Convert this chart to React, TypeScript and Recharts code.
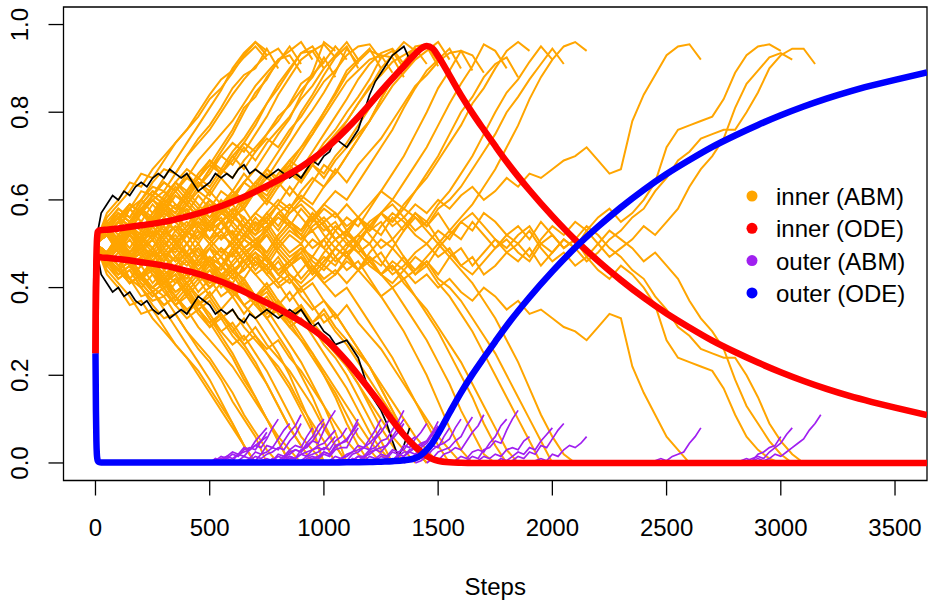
import React from "react";
import { LineChart, Line, XAxis, YAxis, ReferenceArea } from "recharts";

const WIDTH = 935;
const HEIGHT = 607;
const FONT = '"Liberation Sans", Arial, Helvetica, sans-serif';

const PLOT_LEFT = 63.5;
const PLOT_RIGHT = 927;
const PLOT_TOP = 7;
const PLOT_BOTTOM = 480.5;

const INNER_ABM = "#FFA500";
const INNER_ODE = "#FF0000";
const OUTER_ABM = "#A020F0";
const OUTER_ODE = "#0000FF";

const xTicks = [0, 500, 1000, 1500, 2000, 2500, 3000, 3500];
const yTicks = [0, 0.2, 0.4, 0.6, 0.8, 1.0];

const legendLabels = ["inner (ABM)", "inner (ODE)", "outer (ABM)", "outer (ODE)"];
const legendColors = [INNER_ABM, INNER_ODE, OUTER_ABM, OUTER_ODE];

// mean-field solution
const odeSteps = [0, 2, 4, 6, 8, 10, 15, 25, 50, 100, 200, 300, 400, 500, 600, 700, 800, 900, 1000, 1100, 1200, 1250, 1300, 1350, 1400, 1425, 1450, 1475, 1500, 1550, 1600, 1650, 1700, 1750, 1800, 1900, 2000, 2100, 2200, 2300, 2400, 2500, 2600, 2700, 2800, 2900, 3000, 3100, 3200, 3300, 3400, 3500, 3640];
const innerHiOde = [0.25, 0.4, 0.47, 0.505, 0.52, 0.527, 0.53, 0.531, 0.532, 0.535, 0.542, 0.55, 0.562, 0.577, 0.596, 0.619, 0.645, 0.675, 0.713, 0.762, 0.818, 0.848, 0.877, 0.905, 0.933, 0.945, 0.951, 0.946, 0.928, 0.884, 0.839, 0.798, 0.76, 0.723, 0.687, 0.622, 0.563, 0.509, 0.461, 0.417, 0.377, 0.341, 0.309, 0.279, 0.253, 0.229, 0.207, 0.187, 0.169, 0.153, 0.139, 0.126, 0.109];
const innerLoOde = [0.25, 0.38, 0.44, 0.46, 0.467, 0.47, 0.47, 0.469, 0.468, 0.465, 0.458, 0.45, 0.438, 0.423, 0.403, 0.378, 0.352, 0.322, 0.285, 0.232, 0.167, 0.133, 0.097, 0.064, 0.037, 0.026, 0.016, 0.009, 0.005, 0.0015, 0.0005, 0, 0, 0, 0, 0, 0, 0, 0, 0, 0, 0, 0, 0, 0, 0, 0, 0, 0, 0, 0, 0, 0];
const outerOde = [0.25, 0.12, 0.05, 0.02, 0.01, 0.005, 0.002, 0.001, 0.001, 0.001, 0.001, 0.001, 0.001, 0.001, 0.001, 0.001, 0.001, 0.001, 0.001, 0.0015, 0.002, 0.003, 0.004, 0.006, 0.011, 0.018, 0.03, 0.046, 0.067, 0.1145, 0.1605, 0.202, 0.24, 0.277, 0.313, 0.378, 0.437, 0.491, 0.539, 0.583, 0.623, 0.659, 0.691, 0.721, 0.747, 0.771, 0.793, 0.813, 0.831, 0.847, 0.861, 0.874, 0.891];

// ABM runs, values in hundredths. Inner series: one value every 50 steps from step 0.
const RUN_EVERY = 50;
// Outer series: one value every 25 steps, starting at outerFrom[i].
const OUTER_EVERY = 25;
// Highlighted run: one value every 25 steps.
const HIGHLIGHT_EVERY = 25;

const run01Lo = [50, 43, 40, 36, 37, 33, 30, 27, 24, 21, 17, 13, 9, 4, 0];
const run01Hi = [50, 57, 60, 64, 63, 67, 70, 73, 76, 79, 83, 85.5, 89, 93, 96, 94];
const run01Out = [0, 0.5, 1.5, 1, 2, 1.5, 3, 3.5, 3, 5, 6];

const run02Lo = [50, 44, 41, 38, 34, 35, 31, 27, 24, 20, 16, 12, 8, 4, 0];
const run02Hi = [50, 56, 59, 62, 66, 65, 69, 73, 76, 80, 84, 87.5, 89.5, 92.5, 95, 92];
const run02Out = [0, 1, 0.5, 1.5, 2.5, 2, 3.5, 3, 5, 6.5, 8];

const run03Lo = [50, 46, 47, 42, 40, 37, 38, 34, 30, 27, 24, 20, 16, 11, 7, 3, 0];
const run03Hi = [50, 54, 53, 58, 60, 63, 62, 66, 70, 73, 76, 80, 84, 87.5, 90.5, 93, 94.5, 91];
const run03Out = [0, 0.5, 1.5, 1, 2.5, 2, 4, 3.5, 5.5, 7.5, 9];

const run04Lo = [50, 45, 42, 44, 40, 36, 33, 34, 30, 26, 23, 19, 14, 10, 6, 0];
const run04Hi = [50, 55, 58, 56, 60, 64, 67, 66, 70, 74, 77, 81, 85.5, 88.5, 90, 94.5, 90];
const run04Out = [0, 1, 0.5, 2, 1.5, 3, 4, 3.5, 5.5, 8, 10];

const run05Lo = [50, 47, 44, 41, 43, 39, 36, 38, 35, 31, 28, 25, 22, 18, 14, 10, 6, 3, 0];
const run05Hi = [50, 53, 56, 59, 57, 61, 64, 62, 65, 69, 72, 75, 78, 82, 86, 89, 92, 94, 96, 92];
const run05Out = [0, 0.5, 1, 0.5, 2, 1.5, 3, 4, 3.5, 6, 8];

const run06Lo = [50, 48, 51, 47, 43, 45, 41, 38, 35, 37, 33, 29, 25, 20, 15, 10, 5, 0];
const run06Hi = [50, 52, 49, 53, 57, 55, 59, 62, 65, 63, 67, 71, 75, 80, 84.5, 87.5, 92, 93, 89];
const run06Out = [0, 1, 0.5, 2, 2.5, 3.5, 3, 5, 7, 8.5, 11];

const run07Lo = [50, 53, 50, 46, 48, 44, 41, 43, 39, 36, 38, 34, 31, 27, 23, 18, 13, 8, 4, 0];
const run07Hi = [50, 47, 50, 54, 52, 56, 59, 57, 61, 64, 62, 66, 69, 73, 77, 82, 85.5, 89.5, 93.5, 94, 90];
const run07Out = [0, 0.5, 1.5, 1, 2.5, 3, 2.5, 4.5, 6, 8.5, 10];

const run08Lo = [50, 47, 49, 45, 42, 44, 40, 42, 38, 35, 37, 33, 35, 31, 28, 25, 21, 17, 12, 7, 0];
const run08Hi = [50, 53, 51, 55, 58, 56, 60, 58, 62, 65, 63, 67, 65, 69, 72, 75, 79, 81.5, 85, 88, 92.5, 88];
const run08Out = [0, 0.5, 1.5, 1, 3, 3.5, 5, 4.5, 7.5, 10, 12];

const run09Lo = [50, 54, 57, 55, 58, 54, 50, 52, 48, 45, 47, 43, 40, 36, 33, 29, 25, 20, 14, 8, 0];
const run09Hi = [50, 46, 43, 45, 42, 46, 50, 48, 52, 55, 53, 57, 60, 64, 67, 71, 75, 78.5, 84, 89, 96, 94];
const run09Out = [0, 1, 1.5, 1, 2, 2.5, 3, 3.5, 3, 4.5, 6];

const run10Lo = [50, 46, 43, 45, 41, 38, 40, 36, 39, 35, 32, 34, 30, 27, 29, 25, 22, 18, 13, 9, 5, 0];
const run10Hi = [50, 54, 57, 55, 59, 62, 60, 64, 61, 65, 68, 66, 70, 73, 71, 75, 78, 82, 86.5, 88.5, 91.5, 95, 92];
const run10Out = [0, 0.5, 0.5, 1.5, 2, 2.5, 3.5, 3, 5, 6, 8];

const run11Lo = [50, 52, 48, 51, 47, 49, 45, 47, 43, 46, 42, 38, 40, 36, 33, 35, 31, 27, 23, 18, 13, 7, 0];
const run11Hi = [50, 48, 52, 49, 53, 51, 55, 53, 57, 54, 58, 62, 60, 64, 67, 65, 69, 73, 77, 80.5, 84.5, 89, 94.5, 91];
const run11Out = [0, 1, 1.5, 1, 2.5, 2, 4, 4.5, 5.5, 7, 9];

const run12Lo = [50, 47, 51, 54, 50, 53, 49, 46, 48, 44, 41, 43, 39, 42, 38, 35, 37, 33, 29, 25, 20, 15, 9, 4, 0];
const run12Hi = [50, 53, 49, 46, 50, 47, 51, 54, 52, 56, 59, 57, 61, 58, 62, 65, 63, 67, 71, 75, 80, 84.5, 89.5, 92, 94.5, 90];
const run12Out = [0, 0.5, 0.5, 1, 1.5, 2.5, 4, 3.5, 5.5, 7.5, 10];

const run13Lo = [50, 48, 45, 41, 43, 39, 36, 38, 34, 37, 33, 30, 32, 28, 31, 27, 24, 21, 17, 13, 8, 4, 0];
const run13Hi = [50, 52, 55, 59, 57, 61, 64, 62, 66, 63, 67, 70, 68, 72, 69, 73, 76, 79, 83, 86, 90, 93, 96, 92];
const run13Out = [0, 0.5, 1, 1, 2, 1.5, 3, 3.5, 3.5, 6, 8];

const run14Lo = [50, 53, 49, 52, 48, 51, 47, 44, 46, 42, 45, 41, 38, 40, 36, 33, 35, 31, 28, 24, 20, 16, 11, 6, 3, 0];
const run14Hi = [50, 47, 51, 48, 52, 49, 53, 56, 54, 58, 55, 59, 62, 60, 64, 67, 65, 69, 72, 76, 80, 84, 88.5, 91.5, 94, 93, 89];
const run14Out = [0, 1, 0.5, 2, 2.5, 3.5, 3, 5.5, 7, 9, 11];

const run15Lo = [50, 47, 50, 46, 49, 45, 48, 44, 47, 43, 40, 42, 38, 41, 37, 40, 36, 33, 35, 31, 27, 24, 20, 15, 10, 5, 0];
const run15Hi = [50, 53, 50, 54, 51, 55, 52, 56, 53, 57, 60, 58, 62, 59, 63, 60, 64, 67, 65, 69, 73, 76, 80, 83.5, 87.5, 92.5, 94, 90];
const run15Out = [0, 0.5, 1.5, 1, 2.5, 3, 2.5, 4, 6, 8, 10];

const run16Lo = [50, 53, 56, 52, 55, 51, 54, 50, 47, 49, 45, 42, 44, 40, 37, 39, 35, 32, 28, 25, 21, 17, 13, 9, 5, 2, 0];
const run16Hi = [50, 47, 44, 48, 45, 49, 46, 50, 53, 51, 55, 58, 56, 60, 63, 61, 65, 68, 72, 75, 79, 83, 87, 89.5, 92, 93, 92.5, 88];
const run16Out = [0, 0.5, 1.5, 1.5, 3, 3.5, 5, 5.5, 7.5, 9.5, 12];

const run17Lo = [50, 48, 51, 47, 50, 46, 43, 45, 41, 44, 40, 43, 39, 42, 38, 41, 37, 34, 36, 32, 29, 26, 22, 18, 13, 8, 4, 0];
const run17Hi = [50, 52, 49, 53, 50, 54, 57, 55, 59, 56, 60, 57, 61, 58, 62, 59, 63, 66, 64, 68, 71, 74, 78, 82, 85.5, 90, 93, 96, 94];
const run17Out = [0, 0.5, 1.5, 1, 2, 1.5, 3, 2.5, 3, 5, 6];

const run18Lo = [50, 52, 49, 53, 50, 54, 51, 47, 50, 46, 49, 45, 48, 44, 47, 43, 46, 42, 39, 41, 37, 34, 30, 26, 22, 17, 12, 7, 3, 0];
const run18Hi = [50, 48, 51, 47, 50, 46, 49, 53, 50, 54, 51, 55, 52, 56, 53, 57, 54, 58, 61, 59, 63, 66, 70, 74, 78, 83, 87.5, 90.5, 93.5, 95, 92];
const run18Out = [0, 1, 0.5, 1.5, 2.5, 2.5, 3.5, 4, 5, 6.5, 8];

const run19Lo = [50, 47, 44, 46, 42, 39, 41, 37, 40, 36, 39, 35, 38, 34, 37, 33, 36, 32, 35, 31, 28, 25, 22, 18, 14, 10, 6, 3, 0];
const run19Hi = [50, 53, 56, 54, 58, 61, 59, 63, 60, 64, 61, 65, 62, 66, 63, 67, 64, 68, 65, 69, 72, 75, 78, 82, 86, 88.5, 91.5, 93, 94.5, 91];
const run19Out = [0, 0.5, 1.5, 1, 2.5, 2, 4, 3.5, 5.5, 7, 9];

const run20Lo = [50, 53, 50, 47, 49, 52, 48, 51, 47, 50, 46, 49, 45, 48, 44, 47, 43, 46, 42, 45, 41, 38, 40, 36, 32, 28, 24, 19, 14, 9, 4, 0];
const run20Hi = [50, 47, 50, 53, 51, 48, 52, 49, 53, 50, 54, 51, 55, 52, 56, 53, 57, 54, 58, 55, 59, 62, 60, 64, 68, 72, 76, 81, 85.5, 89.5, 92, 94.5, 90];
const run20Out = [0, 1, 0.5, 2, 1.5, 3, 4, 4.5, 5.5, 8, 10];

const run21Lo = [50, 48, 45, 47, 43, 46, 42, 45, 41, 44, 40, 43, 39, 36, 38, 34, 37, 33, 36, 32, 35, 31, 28, 25, 22, 18, 14, 10, 6, 3, 0];
const run21Hi = [50, 52, 55, 53, 57, 54, 58, 55, 59, 56, 60, 57, 61, 64, 62, 66, 63, 67, 64, 68, 65, 69, 72, 75, 78, 82, 86, 89, 92, 94, 96, 92];
const run21Out = [0, 0.5, 1, 0.5, 2, 1.5, 3, 4, 3.5, 6, 8];

const run22Lo = [50, 47, 44, 46, 42, 40, 43, 39, 41, 44, 47, 45, 49, 52, 50, 54, 57, 55, 52, 49, 51, 47, 44, 46, 42, 38, 34, 30, 25, 20, 14, 8, 3, 0];
const run22Hi = [50, 53, 56, 54, 58, 60, 57, 61, 59, 56, 53, 55, 51, 48, 50, 46, 43, 45, 48, 51, 49, 53, 56, 54, 58, 62, 66, 70, 75, 80, 85.5, 89.5, 94, 93, 89];
const run22Out = [0, 1, 0.5, 2, 2.5, 3.5, 3, 5, 7, 8.5, 11];

const run23Lo = [50, 53, 56, 54, 58, 61, 59, 56, 58, 54, 51, 53, 49, 46, 48, 44, 41, 43, 40, 42, 45, 43, 47, 44, 41, 38, 40, 36, 32, 28, 23, 18, 12, 7, 2, 0];
const run23Hi = [50, 47, 44, 46, 42, 39, 41, 44, 42, 46, 49, 47, 51, 54, 52, 56, 59, 57, 60, 58, 55, 57, 53, 56, 59, 62, 60, 64, 68, 72, 77, 82, 86.5, 90.5, 95.5, 94, 90];
const run23Out = [0, 0.5, 1.5, 1, 2.5, 3, 2.5, 4.5, 6, 8.5, 10];

const run24Lo = [50, 48, 52, 55, 53, 57, 60, 58, 62, 59, 56, 58, 54, 51, 49, 52, 48, 45, 47, 43, 46, 49, 47, 50, 46, 43, 45, 41, 38, 34, 30, 25, 20, 15, 9, 4, 0];
const run24Hi = [50, 52, 48, 45, 47, 43, 40, 42, 38, 41, 44, 42, 46, 49, 51, 48, 52, 55, 53, 57, 54, 51, 53, 50, 54, 57, 55, 59, 62, 66, 70, 75, 80, 83.5, 88, 91, 92.5, 88];
const run24Out = [0, 0.5, 1.5, 1, 3, 3.5, 5, 4.5, 7.5, 10, 12];

const run25Lo = [50, 52, 48, 45, 47, 43, 41, 44, 40, 43, 46, 44, 48, 51, 49, 53, 56, 54, 51, 53, 49, 46, 48, 44, 47, 43, 40, 42, 38, 35, 31, 27, 23, 18, 13, 8, 3, 0];
const run25Hi = [50, 48, 52, 55, 53, 57, 59, 56, 60, 57, 54, 56, 52, 49, 51, 47, 44, 46, 49, 47, 51, 54, 52, 56, 53, 57, 60, 58, 62, 65, 69, 73, 77, 82, 85.5, 90, 94, 96, 94];
const run25Out = [0, 0.5, 1.5, 1, 2, 1.5, 3, 3.5, 3, 5, 6];

const run26Lo = [50, 47, 50, 53, 51, 55, 58, 56, 59, 62, 60, 57, 59, 55, 52, 54, 50, 47, 49, 45, 42, 44, 41, 44, 47, 45, 49, 46, 43, 45, 41, 38, 34, 30, 25, 20, 15, 10, 5, 0];
const run26Hi = [50, 53, 50, 47, 49, 45, 42, 44, 41, 38, 40, 43, 41, 45, 48, 46, 50, 53, 51, 55, 58, 56, 59, 56, 53, 55, 51, 54, 57, 55, 59, 62, 66, 70, 75, 80, 84.5, 87.5, 91.5, 95, 92];
const run26Out = [0, 1, 0.5, 1.5, 2.5, 2, 3.5, 3, 5, 6.5, 8];

const run27Lo = [50, 53, 50, 47, 45, 48, 44, 41, 43, 39, 42, 45, 43, 47, 50, 48, 52, 55, 53, 57, 54, 51, 53, 49, 46, 48, 44, 47, 43, 46, 42, 40, 37, 33, 29, 25, 20, 15, 10, 5, 0];
const run27Hi = [50, 47, 50, 53, 55, 52, 56, 59, 57, 61, 58, 55, 57, 53, 50, 52, 48, 45, 47, 43, 46, 49, 47, 51, 54, 52, 56, 53, 57, 54, 58, 60, 63, 67, 71, 75, 80, 83.5, 87.5, 91, 94.5, 91];
const run27Out = [0, 0.5, 1.5, 1, 2.5, 2, 4, 3.5, 5.5, 7.5, 9];

const run28Lo = [50, 48, 51, 54, 52, 56, 53, 50, 52, 48, 45, 47, 43, 46, 49, 47, 51, 54, 52, 56, 59, 57, 54, 56, 52, 49, 51, 47, 44, 46, 43, 47, 44, 41, 37, 33, 28, 23, 17, 11, 6, 2, 0];
const run28Hi = [50, 52, 49, 46, 48, 44, 47, 50, 48, 52, 55, 53, 57, 54, 51, 53, 49, 46, 48, 44, 41, 43, 46, 44, 48, 51, 49, 53, 56, 54, 57, 53, 56, 59, 63, 67, 72, 77, 83, 88, 92, 95, 96, 94];
const run28Out = [0, 0.5, 1, 0.5, 2, 1.5, 3, 4, 3.5, 4.5, 6];

const run29Lo = [50, 47, 44, 46, 42, 45, 48, 46, 50, 53, 51, 55, 58, 56, 53, 55, 51, 48, 50, 46, 44, 47, 50, 48, 45, 43, 46, 44, 41, 43, 40, 42, 39, 37, 40, 38, 35, 37, 34, 35, 33, 31, 30, 28, 31, 34, 33, 22, 16, 11, 6, 3, 0];
const run29Hi = [50, 53, 56, 54, 58, 55, 52, 54, 50, 47, 49, 45, 42, 44, 47, 45, 49, 52, 50, 54, 56, 53, 50, 52, 55, 57, 54, 56, 59, 57, 60, 58, 61, 63, 60, 62, 65, 63, 66, 65, 67, 69, 70, 72, 69, 66, 67, 78, 84, 88.5, 93, 95, 95.5, 92];
const run29Out = [0, 0, 0.5, 1, 0.5, 1.5, 2, 2.5, 4.5, 6, 8];

const run30Lo = [50, 47, 44, 41, 43, 40, 42, 45, 43, 47, 50, 53, 56, 54, 57, 60, 58, 55, 53, 56, 52, 49, 47, 44, 46, 43, 41, 44, 47, 45, 49, 52, 55, 53, 57, 55, 52, 50, 53, 49, 46, 48, 45, 47, 44, 42, 45, 43, 40, 36, 28, 24, 23, 22, 21, 17, 11, 6, 3, 1, 0];
const run30Hi = [50, 53, 56, 59, 57, 60, 58, 55, 57, 53, 50, 47, 44, 46, 43, 40, 42, 45, 47, 44, 48, 51, 53, 56, 54, 57, 59, 56, 53, 55, 51, 48, 45, 47, 43, 45, 48, 50, 47, 51, 54, 52, 55, 53, 56, 58, 55, 57, 60, 64, 72, 76, 77, 78, 79, 83, 89, 93, 95, 95.5, 94];
const run30Out = [0, 0.5, 1, 0.5, 2, 2.5, 3.5, 4, 6];

const run31Lo = [50, 53, 56, 59, 57, 60, 62, 59, 56, 58, 54, 51, 53, 49, 46, 44, 47, 43, 41, 44, 47, 45, 49, 52, 50, 54, 57, 55, 52, 50, 47, 49, 45, 43, 46, 49, 52, 54, 51, 55, 52, 49, 51, 47, 50, 53, 51, 49, 46, 48, 45, 42, 37, 33, 30, 26, 19, 13, 9, 5, 2, 0];
const run31Hi = [50, 47, 44, 41, 43, 40, 38, 41, 44, 42, 46, 49, 47, 51, 54, 56, 53, 57, 59, 56, 53, 55, 51, 48, 50, 46, 43, 45, 48, 50, 53, 51, 55, 57, 54, 51, 48, 46, 49, 45, 48, 51, 49, 53, 50, 47, 49, 51, 54, 52, 55, 58, 63, 67, 70, 74, 81, 86.5, 89.5, 92.5, 93.5, 92];
const run31Out = [0, 0.5, 0.5, 1, 1.5, 1, 2.5, 3.5, 4.5, 6.5, 8];

const run32Lo = [50, 48, 45, 47, 43, 40, 42, 38, 41, 44, 47, 45, 49, 52, 55, 53, 57, 59, 56, 53, 55, 51, 48, 50, 46, 43, 45, 42, 44, 47, 50, 53, 51, 55, 52, 49, 51, 48, 46, 50, 52, 49, 51, 54, 52, 49, 47, 44, 42, 38, 35, 31, 29, 26, 25, 24, 24, 20, 15, 9, 5, 2, 0];
const run32Hi = [50, 52, 55, 53, 57, 60, 58, 62, 59, 56, 53, 55, 51, 48, 45, 47, 43, 41, 44, 47, 45, 49, 52, 50, 54, 57, 55, 58, 56, 53, 50, 47, 49, 45, 48, 51, 49, 52, 54, 50, 48, 51, 49, 46, 48, 51, 53, 56, 58, 62, 65, 69, 71, 74, 75, 76, 76, 80, 84.5, 90, 93, 94.5, 94.5, 91];
const run32Out = [0, 0.5, 1, 0.5, 1, 2, 1.5, 2.5, 3.5, 4.5, 5.5, 7.5, 9, 11];

const run33Lo = [50, 45, 47, 42, 38, 39, 35, 31, 27, 23, 19, 14, 9, 4, 0];
const run33Hi = [50, 55, 53, 58, 62, 61, 65, 69, 73, 77, 81, 85, 90, 93.5, 96, 93];
const run33Out = [0, 0.5, 1, 1.5, 1, 2, 2.5, 3, 4, 5, 7];

const run34Lo = [50, 54, 51, 47, 49, 45, 41, 43, 39, 35, 32, 28, 24, 19, 15, 10, 5, 0];
const run34Hi = [50, 46, 49, 53, 51, 55, 59, 57, 61, 65, 68, 72, 76, 81, 83.5, 88, 91.5, 95, 91];
const run34Out = [0, 0.5, 1.5, 1, 2, 2.5, 3.5, 3, 5, 6.5, 9];

const run35Lo = [50, 46, 42, 44, 40, 43, 39, 36, 38, 34, 31, 33, 29, 26, 22, 18, 13, 8, 4, 0];
const run35Hi = [50, 54, 58, 56, 60, 57, 61, 64, 62, 66, 69, 67, 71, 74, 78, 82, 86.5, 90, 93.5, 95, 91];
const run35Out = [0, 1, 0.5, 1.5, 2, 3, 2.5, 4, 5, 7, 9];

const run36Lo = [50, 53, 56, 58, 55, 52, 54, 50, 47, 44, 46, 42, 39, 41, 37, 33, 29, 25, 20, 15, 9, 4, 0];
const run36Hi = [50, 47, 44, 42, 45, 48, 46, 50, 53, 56, 54, 58, 61, 59, 63, 67, 71, 75, 80, 84, 88.5, 92.5, 95, 90];
const run36Out = [0, 0.5, 1, 1.5, 2.5, 2, 3.5, 4.5, 5, 7.5, 10];

const run37Lo = [50, 47, 43, 45, 41, 38, 40, 36, 33, 35, 31, 34, 30, 33, 29, 26, 28, 24, 21, 17, 13, 9, 5, 2, 0];
const run37Hi = [50, 53, 57, 55, 59, 62, 60, 64, 67, 65, 69, 66, 70, 67, 71, 74, 72, 76, 79, 83, 87, 89.5, 93, 95, 95.5, 92];
const run37Out = [0, 0.5, 1.5, 1, 2, 2.5, 3, 3.5, 4.5, 6, 8];

const run38Lo = [50, 52, 55, 52, 49, 51, 47, 49, 46, 42, 44, 40, 43, 39, 36, 38, 34, 31, 33, 29, 25, 21, 17, 12, 7, 3, 0];
const run38Hi = [50, 48, 45, 48, 51, 49, 53, 51, 54, 58, 56, 60, 57, 61, 64, 62, 66, 69, 67, 71, 75, 79, 83, 87.5, 91, 93.5, 94.5, 91];
const run38Out = [0, 1, 0.5, 1.5, 2, 3, 3.5, 4, 5.5, 7, 9];

const run39Lo = [50, 48, 45, 42, 45, 41, 44, 47, 45, 49, 46, 43, 45, 41, 38, 40, 36, 39, 35, 32, 34, 30, 27, 23, 19, 15, 11, 7, 3, 0];
const run39Hi = [50, 52, 55, 58, 55, 59, 56, 53, 55, 51, 54, 57, 55, 59, 62, 60, 64, 61, 65, 68, 66, 70, 73, 77, 81, 85, 88, 91.5, 95, 95.5, 91.5];
const run39Out = [0, 0.5, 1, 0.5, 1.5, 2.5, 2, 3.5, 4.5, 6.5, 8.5];

const run40Lo = [50, 53, 50, 46, 48, 44, 41, 43, 39, 42, 38, 41, 44, 42, 46, 43, 40, 42, 38, 35, 37, 33, 36, 32, 29, 26, 22, 18, 14, 10, 6, 3, 0];
const run40Hi = [50, 47, 50, 54, 52, 56, 59, 57, 61, 58, 62, 59, 56, 58, 54, 57, 60, 58, 62, 65, 63, 67, 64, 68, 71, 74, 78, 82, 86, 88.5, 91.5, 93.5, 94, 89.5];
const run40Out = [0, 0.5, 1.5, 1, 2.5, 3, 3.5, 5, 6, 8.5, 10.5];

const run41Lo = [50, 55, 52, 48, 50, 46, 42, 39, 41, 37, 34, 30, 27, 29, 25, 21, 16, 11, 6, 3, 0];
const run41Hi = [50, 45, 48, 52, 50, 54, 58, 61, 59, 63, 66, 70, 73, 71, 75, 79, 84, 88, 92, 94, 95.5, 92.5];
const run41Out = [0, 0.5, 1, 1, 2, 1.5, 3, 4, 4.5, 6, 7.5];

const run42Lo = [50, 46, 49, 52, 50, 54, 57, 55, 52, 55, 51, 48, 50, 46, 43, 45, 41, 37, 40, 36, 32, 34, 30, 26, 22, 17, 12, 7, 3, 0];
const run42Hi = [50, 54, 51, 48, 50, 46, 43, 45, 48, 45, 49, 52, 50, 54, 57, 55, 59, 63, 60, 64, 68, 66, 70, 74, 78, 83, 87.5, 91.5, 93.5, 95, 90.5];
const run42Out = [0, 1, 0.5, 2, 1.5, 3, 3.5, 4.5, 5, 7, 9.5];

const outerFrom = [500, 500, 600, 550, 700, 650, 750, 800, 800, 850, 900, 1000, 900, 1050, 1100, 1100, 1150, 1250, 1200, 1350, 1300, 1450, 1550, 1600, 1650, 1750, 1800, 1900, 2400, 2800, 2800, 2850, 500, 650, 750, 900, 1000, 1100, 1250, 1400, 800, 1250];

// the run drawn in black
const highlightHi = [50, 57, 59, 61, 60, 62, 61, 63, 64, 63, 65, 66, 65, 67, 66, 65, 66, 64, 62, 63, 64, 66, 65, 66, 65, 67, 68, 66, 67, 66, 65, 66, 67, 66, 65, 66, 65, 67, 69, 68, 70, 71, 74, 73, 72, 74, 76, 80, 84, 87, 89, 91, 93, 94, 95, 92];
const highlightLo = [50, 43, 41, 39, 40, 38, 39, 37, 36, 37, 35, 34, 35, 33, 34, 35, 34, 36, 38, 37, 36, 34, 35, 34, 35, 33, 32, 34, 33, 34, 35, 34, 33, 34, 35, 34, 35, 33, 31, 32, 30, 29, 27, 27.5, 28, 26, 24, 20, 16, 14, 12, 9, 5, 1.5, 4, 8];

const runsHi = [run01Hi, run02Hi, run03Hi, run04Hi, run05Hi, run06Hi, run07Hi, run08Hi, run09Hi, run10Hi, run11Hi, run12Hi, run13Hi, run14Hi, run15Hi, run16Hi, run17Hi, run18Hi, run19Hi, run20Hi, run21Hi, run22Hi, run23Hi, run24Hi, run25Hi, run26Hi, run27Hi, run28Hi, run29Hi, run30Hi, run31Hi, run32Hi, run33Hi, run34Hi, run35Hi, run36Hi, run37Hi, run38Hi, run39Hi, run40Hi, run41Hi, run42Hi];
const runsLo = [run01Lo, run02Lo, run03Lo, run04Lo, run05Lo, run06Lo, run07Lo, run08Lo, run09Lo, run10Lo, run11Lo, run12Lo, run13Lo, run14Lo, run15Lo, run16Lo, run17Lo, run18Lo, run19Lo, run20Lo, run21Lo, run22Lo, run23Lo, run24Lo, run25Lo, run26Lo, run27Lo, run28Lo, run29Lo, run30Lo, run31Lo, run32Lo, run33Lo, run34Lo, run35Lo, run36Lo, run37Lo, run38Lo, run39Lo, run40Lo, run41Lo, run42Lo];
const runsOut = [run01Out, run02Out, run03Out, run04Out, run05Out, run06Out, run07Out, run08Out, run09Out, run10Out, run11Out, run12Out, run13Out, run14Out, run15Out, run16Out, run17Out, run18Out, run19Out, run20Out, run21Out, run22Out, run23Out, run24Out, run25Out, run26Out, run27Out, run28Out, run29Out, run30Out, run31Out, run32Out, run33Out, run34Out, run35Out, run36Out, run37Out, run38Out, run39Out, run40Out, run41Out, run42Out];

type Pt = { step: number; value: number };

function toSeries(vals: number[], from: number, every: number): Pt[] {
  return vals.map((v, i) => ({ step: from + i * every, value: v / 100 }));
}

const odeData = odeSteps.map((s, i) => ({
  step: s,
  hi: innerHiOde[i],
  lo: innerLoOde[i],
  out: outerOde[i],
}));

function XTick({ x, payload }: any) {
  return (
    <text x={x} y={536} textAnchor="middle" fontSize={24} fontFamily={FONT} fill="#000">
      {payload.value}
    </text>
  );
}

function YTick({ y, payload }: any) {
  return (
    <text
      x={28}
      y={y}
      transform={`rotate(-90 28 ${y})`}
      textAnchor="middle"
      fontSize={24}
      fontFamily={FONT}
      fill="#000"
    >
      {Number(payload.value).toFixed(1)}
    </text>
  );
}

function StepsTitle() {
  return (
    <text x={(PLOT_LEFT + PLOT_RIGHT) / 2} y={595} textAnchor="middle" fontSize={24} fontFamily={FONT} fill="#000">
      Steps
    </text>
  );
}

function LegendBox() {
  return (
    <svg
      width={WIDTH}
      height={HEIGHT}
      style={{ position: "absolute", left: 0, top: 0, pointerEvents: "none" }}
    >
      {legendLabels.map((label, i) => {
        const cy = 196 + i * 32.3;
        return (
          <g key={label}>
            <circle cx={752} cy={cy} r={5.5} fill={legendColors[i]} />
            <text x={776} y={cy + 9} fontSize={24} fontFamily={FONT} fill="#000">
              {label}
            </text>
          </g>
        );
      })}
    </svg>
  );
}

const thin = { dot: false, activeDot: false, isAnimationActive: false, type: "linear" as const };

export default function App() {
  return (
    <div style={{ position: "absolute", left: 0, top: 0, width: WIDTH, height: HEIGHT, background: "#fff" }}>
      <LineChart
        width={WIDTH}
        height={HEIGHT}
        margin={{ top: PLOT_TOP, right: WIDTH - PLOT_RIGHT, bottom: 0, left: 0 }}
      >
        <XAxis
          dataKey="step"
          type="number"
          domain={[-140, 3640]}
          allowDataOverflow
          ticks={xTicks}
          interval={0}
          height={HEIGHT - PLOT_BOTTOM}
          tickSize={15}
          axisLine={false}
          tickLine={{ stroke: "#000", strokeWidth: 1.3 }}
          tick={<XTick />}
          label={<StepsTitle />}
        />
        <YAxis
          type="number"
          domain={[-0.04, 1.04]}
          allowDataOverflow
          ticks={yTicks}
          interval={0}
          width={PLOT_LEFT}
          tickSize={15}
          axisLine={false}
          tickLine={{ stroke: "#000", strokeWidth: 1.3 }}
          tick={<YTick />}
        />
        {runsHi.map((r, i) => (
          <Line key={`hi${i}`} data={toSeries(r, 0, RUN_EVERY)} dataKey="value" stroke={INNER_ABM} strokeWidth={2} {...thin} />
        ))}
        {runsLo.map((r, i) => (
          <Line key={`lo${i}`} data={toSeries(r, 0, RUN_EVERY)} dataKey="value" stroke={INNER_ABM} strokeWidth={2} {...thin} />
        ))}
        <Line data={toSeries(highlightHi, 0, HIGHLIGHT_EVERY)} dataKey="value" stroke="#000" strokeWidth={1.7} {...thin} />
        <Line data={toSeries(highlightLo, 0, HIGHLIGHT_EVERY)} dataKey="value" stroke="#000" strokeWidth={1.7} {...thin} />
        {runsOut.map((r, i) => (
          <Line key={`out${i}`} data={toSeries(r, outerFrom[i], OUTER_EVERY)} dataKey="value" stroke={OUTER_ABM} strokeWidth={1.7} {...thin} />
        ))}
        <Line data={odeData} dataKey="hi" stroke={INNER_ODE} strokeWidth={6.5} type="monotone" dot={false} activeDot={false} isAnimationActive={false} />
        <Line data={odeData} dataKey="lo" stroke={INNER_ODE} strokeWidth={6.5} type="monotone" dot={false} activeDot={false} isAnimationActive={false} />
        <Line data={odeData} dataKey="out" stroke={OUTER_ODE} strokeWidth={6.5} type="monotone" dot={false} activeDot={false} isAnimationActive={false} />
        <ReferenceArea x1={-140} x2={3640} y1={-0.04} y2={1.04} fill="none" stroke="#000" strokeWidth={1.3} fillOpacity={0} />
      </LineChart>
      <LegendBox />
    </div>
  );
}
